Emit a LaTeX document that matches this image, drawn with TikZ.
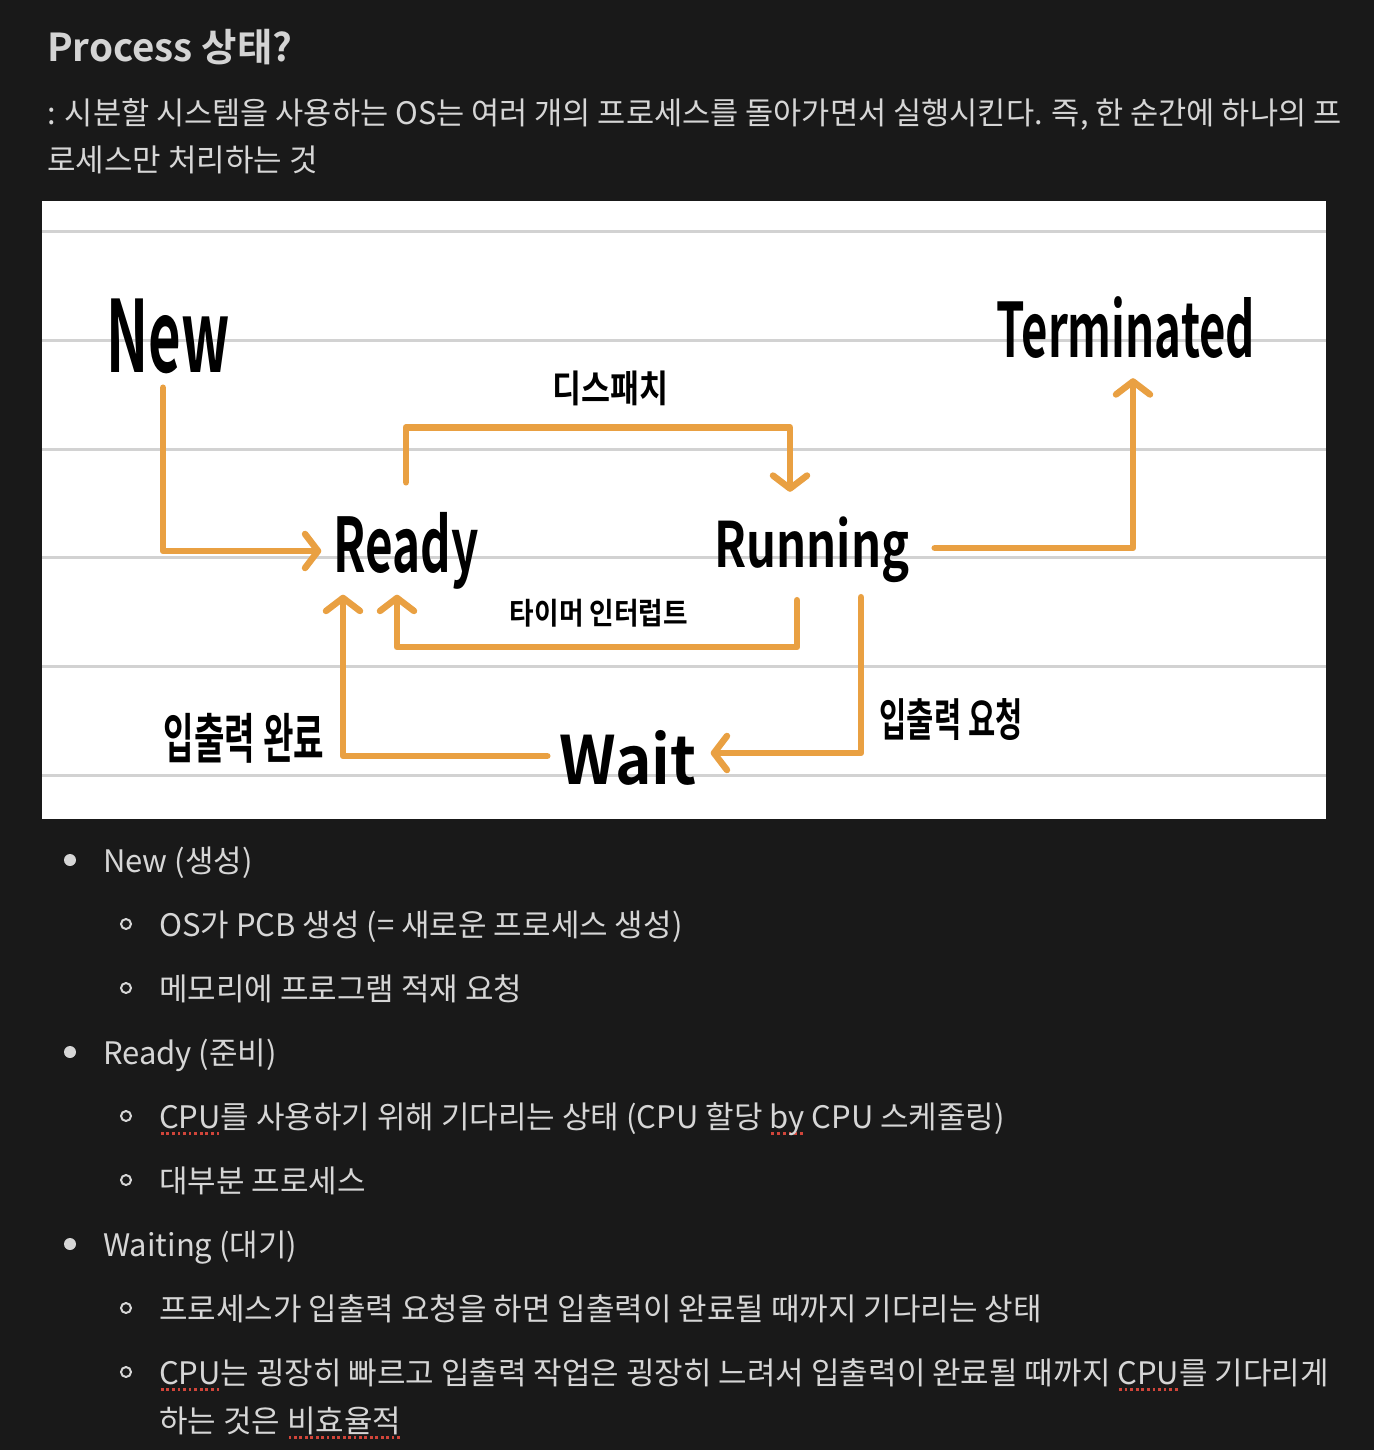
\documentclass[tikz,border=0pt]{standalone}
\usepackage{fontspec}
\usepackage{graphicx}
\usetikzlibrary{arrows.meta, positioning}

\newfontfamily\bodyfont[BoldFont={Noto Sans CJK KR Bold}]{Noto Sans CJK KR}
\definecolor{bg}{HTML}{191919}
\definecolor{txt}{HTML}{D6D6D6}
\definecolor{flowc}{HTML}{E9A042}
\definecolor{paperline}{HTML}{D2D2D2}
\definecolor{spellred}{HTML}{D0453A}

% hand-written label squeezed into a fixed box
\newcommand{\hw}[3]{\resizebox*{#1pt}{#2pt}{\bodyfont\bfseries #3}}
% red dotted spell-check underline
\newsavebox{\spellbox}
\newcommand{\spell}[1]{\sbox{\spellbox}{#1}\rlap{\raisebox{-7pt}{\color{spellred}\hbox to\wd\spellbox{\xleaders\hbox to 5.2pt{\hss\rule{2.8pt}{2.8pt}\hss}\hfil}}}\usebox{\spellbox}}

\begin{document}
\begin{tikzpicture}[x=1pt, y=-1pt,
            body/.style={anchor=west, inner sep=0pt, text=txt, text height=29pt, text depth=5pt,
                         font=\bodyfont\fontsize{31}{36}\selectfont},
            hand/.style={inner sep=0pt, text=black},
            paper/.style={draw=paperline, line width=3pt},
            flow/.style={draw=flowc, line width=6.5pt, line cap=round, line join=round,
                         -{Straight Barb[length=13pt, width=34pt, round]}},
            dot/.style={circle, fill=txt, inner sep=0pt, minimum size=12pt},
            ring/.style={circle, draw=txt, line width=2pt, inner sep=0pt, minimum size=10pt}]

            % Page
            \fill[bg] (0,0) rectangle (1374,1450);
            \useasboundingbox (0,0) rectangle (1374,1450);

            % Heading and intro
            \node[body, text=txt!105, font=\bodyfont\bfseries\fontsize{38.5}{42}\selectfont] (title) at (47,50) {Process 상태?};
            \node[body, font=\bodyfont\addfontfeature{FakeStretch=0.988}\fontsize{31}{36}\selectfont] (intro1) at (47,113) {: 시분할 시스템을 사용하는 OS는 여러 개의 프로세스를 돌아가면서 실행시킨다. 즉, 한 순간에 하나의 프};
            \node[body] (intro2) at (47,160) {로세스만 처리하는 것};

            % Lined paper
            \fill[white] (42,201) rectangle (1326,819);
            \foreach \y in {231,340,449,557,666,775}
                \draw[paper] (42,\y) -- (1326,\y);

            % States
            \node[hand] (new) at (168,336) {\hw{123}{75}{New}};
            \node[hand] (term) at (1126,328) {\hw{258}{62}{Terminated}};
            \node[hand] (ready) at (406,551) {\hw{145}{77}{Ready}};
            \node[hand] (running) at (812,550) {\hw{195}{66}{Running}};
            \node[hand] (wait) at (628,758) {\hw{137}{55}{Wait}};

            % Transition labels
            \node[hand] (dispatch) at (610,388) {\hw{116}{35}{디스패치}};
            \node[hand] (timer) at (599,613) {\hw{178}{28}{타이머 인터럽트}};
            \node[hand] (iodone) at (244,738) {\hw{160}{50}{입출력 완료}};
            \node[hand] (ioreq) at (951,720) {\hw{143}{42}{입출력 요청}};

            % Transitions
            \draw[flow, shorten <=14pt, shorten >=12pt] ([xshift=-5pt]new.south) |- (ready.west);
            \draw[flow, shorten <=30pt, shorten >=25pt] (ready.north) -- ++(0,-85) -| ([xshift=-22pt]running.north);
            \draw[flow, shorten <=25pt, shorten >=19pt] ([yshift=2pt]running.east) -| ([xshift=7pt]term.south);
            \draw[flow, shorten <=17pt, shorten >=5pt] ([xshift=-15pt]running.south) -- ++(0,64) -| ([xshift=-9pt]ready.south);
            \draw[flow, shorten <=14pt, shorten >=14pt] ([xshift=49pt]running.south) |- ([yshift=5pt]wait.east);
            \draw[flow, shorten >=5pt] ([xshift=-12pt, yshift=2pt]wait.west) -| ([xshift=-63pt]ready.south);

            % Notes
            \node[dot] (d1) at (70,860) {};
            \node[body] (n1) at (103,860) {New (생성)};
            \node[ring] (r1) at (126,924) {};
            \node[body] (n1a) at (159,924) {OS가 PCB 생성 (= 새로운 프로세스 생성)};
            \node[ring] (r2) at (126,988) {};
            \node[body] (n1b) at (159,988) {메모리에 프로그램 적재 요청};

            \node[dot] (d2) at (70,1052) {};
            \node[body] (n2) at (103,1052) {Ready (준비)};
            \node[ring] (r3) at (126,1116) {};
            \node[body] (n2a) at (159,1116) {\spell{CPU}를 사용하기 위해 기다리는 상태 (CPU 할당 \spell{by} CPU 스케줄링)};
            \node[ring] (r4) at (126,1180) {};
            \node[body] (n2b) at (159,1180) {대부분 프로세스};

            \node[dot] (d3) at (70,1244) {};
            \node[body] (n3) at (103,1244) {Waiting (대기)};
            \node[ring] (r5) at (126,1308) {};
            \node[body] (n3a) at (159,1308) {프로세스가 입출력 요청을 하면 입출력이 완료될 때까지 기다리는 상태};
            \node[ring] (r6) at (126,1372) {};
            \node[body] (n3b) at (159,1372) {\spell{CPU}는 굉장히 빠르고 입출력 작업은 굉장히 느려서 입출력이 완료될 때까지 \spell{CPU}를 기다리게};
            \node[body] (n3c) at (159,1420) {하는 것은 \spell{비효율적}};
\end{tikzpicture}
\end{document}
